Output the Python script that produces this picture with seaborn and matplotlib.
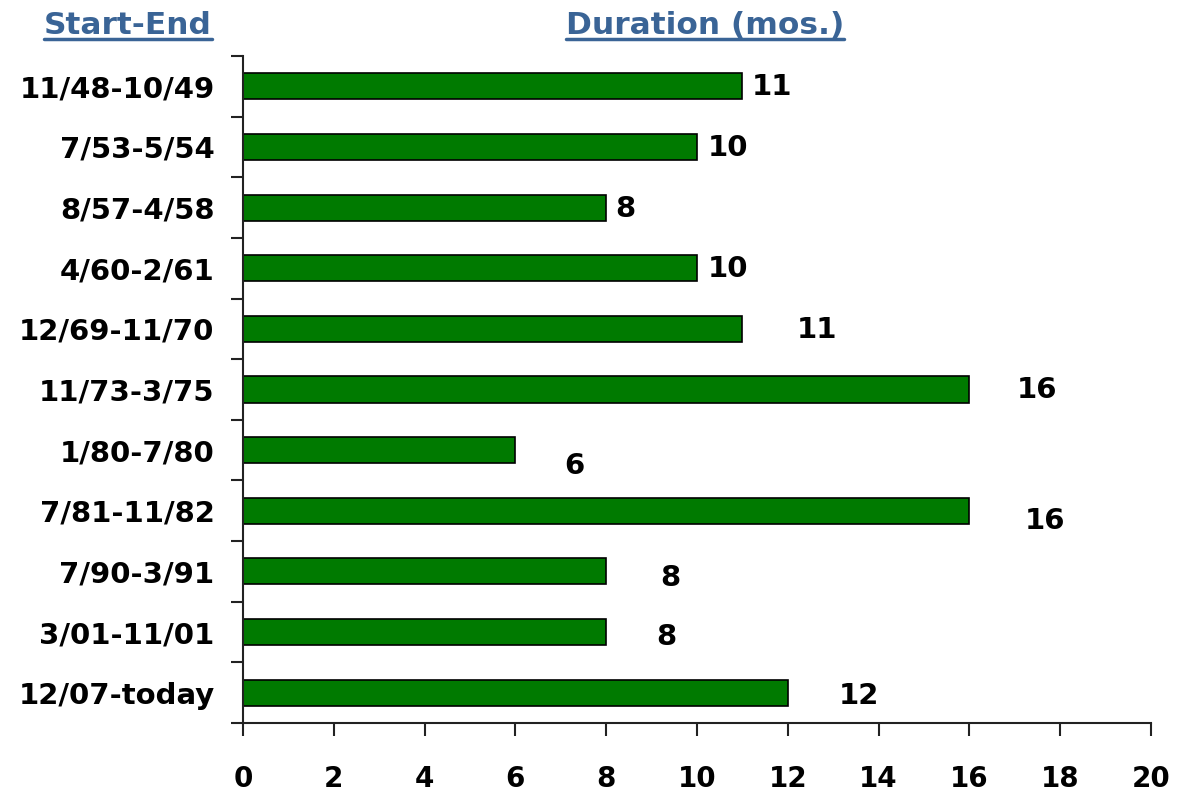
import matplotlib
matplotlib.use("Agg")
import matplotlib.pyplot as plt
from matplotlib.lines import Line2D
import pandas as pd
import seaborn as sns

# recession periods and their durations in months
periods = ["11/48-10/49", "7/53-5/54", "8/57-4/58", "4/60-2/61", "12/69-11/70",
           "11/73-3/75", "1/80-7/80", "7/81-11/82", "7/90-3/91", "3/01-11/01",
           "12/07-today"]
durations = [11, 10, 8, 10, 11, 16, 6, 16, 8, 8, 12]

# label offsets from bar end (pixels), as placed in the original
lbl_dx = [30, 31, 19, 31, 75, 68, 59, 76, 64, 60, 71]
lbl_dy = [-1, -1, -1, -1, -1, -1, -16, -10, -7, -5, -3]

df = pd.DataFrame({"period": periods, "months": durations})

sns.set_style("white")
plt.rcParams["font.family"] = ["DejaVu Sans"]

fig = plt.figure(figsize=(11.82, 7.92), dpi=100)
ax = fig.add_axes([243 / 1182, 69 / 792, 908 / 1182, 667 / 792])

sns.barplot(data=df, x="months", y="period", orient="h", color="#007A00",
            saturation=1, edgecolor="black", linewidth=1.2, width=0.43, ax=ax)

ax.set_xlim(0, 20)
ax.set_ylim(10.5, -0.5)
ax.set_xticks(range(0, 21, 2))
ax.set_yticks(range(len(periods)))
ax.set_yticks([i - 0.5 for i in range(len(periods) + 1)], minor=True)
ax.set_yticklabels(periods, fontsize=21, fontweight="bold", color="black")
ax.tick_params(axis="y", which="major", left=False, pad=17)
ax.tick_params(axis="y", which="minor", left=True, length=9, width=1.5,
               color="#222222", direction="out")
ax.tick_params(axis="x", bottom=True, length=9, width=1.5, color="#222222",
               direction="out", labelsize=20, labelcolor="black", pad=21)
for lab in ax.get_xticklabels():
    lab.set_fontweight("bold")
ax.set_xlabel("")
ax.set_ylabel("")
sns.despine(ax=ax)
for s in ["left", "bottom"]:
    ax.spines[s].set_color("#222222")
    ax.spines[s].set_linewidth(1.5)

for i, v in enumerate(durations):
    ax.annotate(str(v), (v, i), xytext=(lbl_dx[i] * 0.72, lbl_dy[i] * 0.72),
                textcoords="offset points", ha="center", va="center",
                fontsize=21, fontweight="bold", color="black")

# underlined column headers
hdr_color = "#3A6496"
headers = [("Start-End", 128 / 1182), ("Duration (mos.)", 705 / 1182)]
texts = []
for txt, xc in headers:
    t = fig.text(xc, 1 - 26 / 792, txt, ha="center", va="center", fontsize=22.5,
                 fontweight="bold", color=hdr_color)
    texts.append(t)

fig.canvas.draw()
renderer = fig.canvas.get_renderer()
for t in texts:
    bb = t.get_window_extent(renderer).transformed(fig.transFigure.inverted())
    fig.add_artist(Line2D([bb.x0, bb.x1], [bb.y0 + 1 / 792, bb.y0 + 1 / 792],
                          transform=fig.transFigure, color=hdr_color, linewidth=2.5))

fig.savefig("out.png", dpi=100)
